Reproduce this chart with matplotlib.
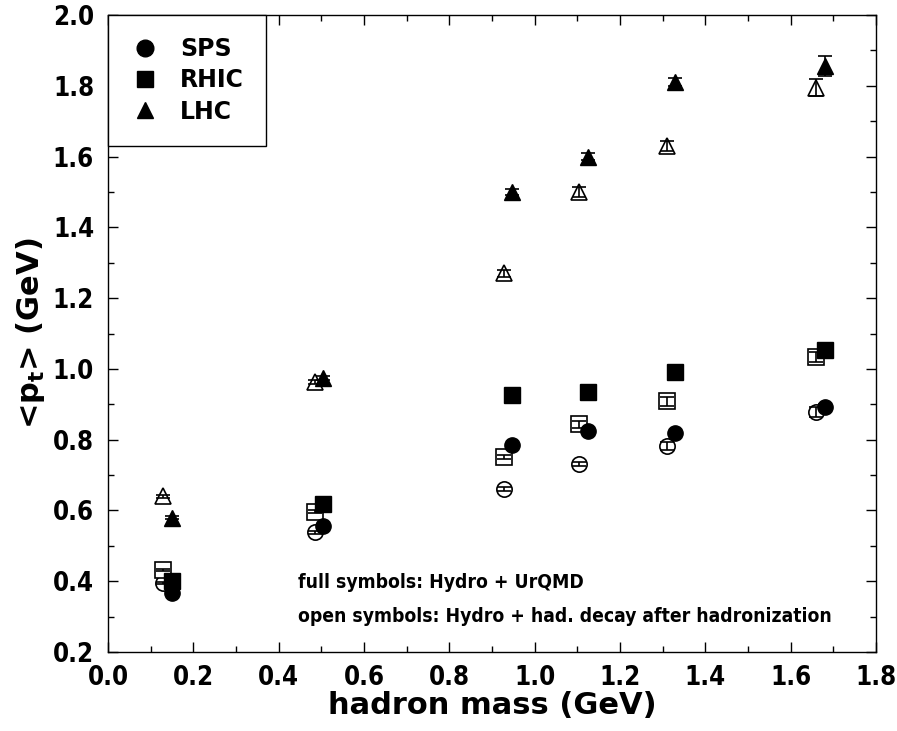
import numpy as np
import matplotlib
matplotlib.use("Agg")
import matplotlib.pyplot as plt

# hadron masses (pi, K, p, Lambda, Xi, Omega), shifted a bit for visibility
mass_full = [0.15, 0.505, 0.948, 1.125, 1.33, 1.68]
mass_open = [0.13, 0.485, 0.928, 1.105, 1.31, 1.66]

# full symbols: Hydro + UrQMD
sps_full = [0.368, 0.555, 0.785, 0.825, 0.818, 0.893]
rhic_full = [0.40, 0.617, 0.927, 0.935, 0.99, 1.054]
lhc_full = [0.58, 0.975, 1.50, 1.60, 1.81, 1.857]
sps_full_err = [0.004, 0.004, 0.005, 0.005, 0.006, 0.008]
rhic_full_err = [0.004, 0.004, 0.005, 0.006, 0.007, 0.008]
lhc_full_err = [0.005, 0.006, 0.008, 0.010, 0.012, 0.028]

# open symbols: Hydro + had. decay after hadronization
sps_open = [0.395, 0.538, 0.66, 0.732, 0.782, 0.877]
rhic_open = [0.432, 0.597, 0.752, 0.843, 0.908, 1.033]
lhc_open = [0.64, 0.962, 1.27, 1.50, 1.63, 1.795]
sps_open_err = [0.004, 0.004, 0.005, 0.006, 0.012, 0.014]
rhic_open_err = [0.004, 0.005, 0.006, 0.010, 0.014, 0.014]
lhc_open_err = [0.005, 0.006, 0.010, 0.015, 0.015, 0.025]

plt.rcParams['font.family'] = ['DejaVu Sans']

fig = plt.figure(figsize=(8.97, 7.31), dpi=100)
ax = fig.add_axes([0.1204, 0.108, 0.8562, 0.8715])

ms = 11
# open symbols, error bars drawn over the hollow markers
for y, e, mk in [(sps_open, sps_open_err, 'o'), (rhic_open, rhic_open_err, 's'),
                 (lhc_open, lhc_open_err, '^')]:
    ax.plot(mass_open, y, mk, ms=ms if mk != '^' else ms + 1,
            mfc='white', mec='black', mew=1.2, zorder=2)
    ax.errorbar(mass_open, y, yerr=e, fmt='none', ecolor='black',
                elinewidth=1.2, capsize=5, capthick=1.2, zorder=2.5)

handles = []
for y, e, mk, lab in [(sps_full, sps_full_err, 'o', 'SPS'), (rhic_full, rhic_full_err, 's', 'RHIC'),
                      (lhc_full, lhc_full_err, '^', 'LHC')]:
    ax.errorbar(mass_full, y, yerr=e, fmt=mk, ms=ms if mk != '^' else ms + 1,
                mfc='black', mec='black', ecolor='black',
                elinewidth=1.2, capsize=5, capthick=1.2, zorder=3)
    h, = ax.plot([], [], mk, color='black', ms=12, label=lab)
    handles.append(h)

leg = ax.legend(handles=handles, loc='upper left', borderaxespad=0, fancybox=False,
                edgecolor='black', framealpha=1, handletextpad=0.9,
                borderpad=0.95, labelspacing=0.3, handlelength=1.2,
                prop={'weight': 'bold', 'size': 17})
leg.get_frame().set_linewidth(1.0)

ax.text(0.445, 0.382, 'full symbols: Hydro + UrQMD', fontsize=13.9, weight='semibold',
        stretch='condensed')
ax.text(0.445, 0.286, 'open symbols: Hydro + had. decay after hadronization',
        fontsize=13.9, weight='semibold', stretch='condensed')

ax.set_xlim(0.0, 1.8)
ax.set_ylim(0.2, 2.0)
ax.set_xticks(np.arange(0.0, 1.81, 0.2))
ax.set_yticks(np.arange(0.2, 2.01, 0.2))
ax.set_xticks(np.arange(0.1, 1.8, 0.2), minor=True)
ax.set_yticks(np.arange(0.3, 2.0, 0.2), minor=True)
ax.set_xticklabels(['%.1f' % v for v in np.arange(0.0, 1.81, 0.2)])
ax.set_yticklabels(['%.1f' % v for v in np.arange(0.2, 2.01, 0.2)])
ax.tick_params(which='both', direction='in', top=True, right=True)
ax.tick_params(which='major', length=7, width=1, labelsize=18.5)
ax.tick_params(axis='x', which='major', pad=9)
ax.tick_params(axis='y', which='major', pad=10)
ax.tick_params(which='minor', length=4, width=1)
for lab in ax.get_xticklabels() + ax.get_yticklabels():
    lab.set_fontweight('bold')
    lab.set_fontstretch('condensed')
for s in ax.spines.values():
    s.set_linewidth(1.0)

ax.set_xlabel('hadron mass (GeV)', fontsize=22, weight='bold', labelpad=0)
ax.set_ylabel(r'<p$_\mathbf{t}$> (GeV)', fontsize=22, weight='bold', labelpad=4)

fig.savefig('out.png', dpi=100)
